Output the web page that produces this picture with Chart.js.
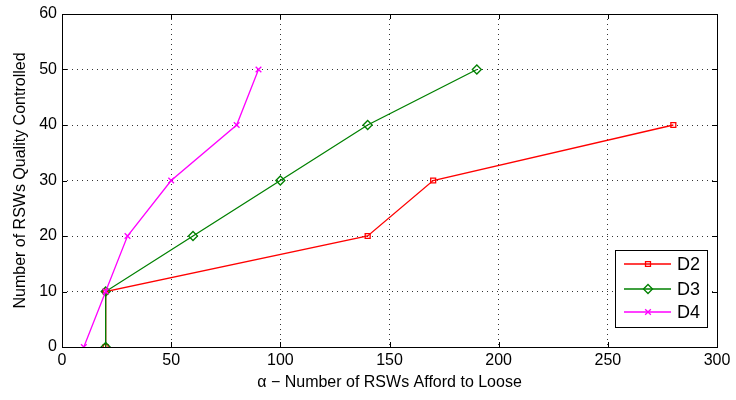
<!DOCTYPE html>
<html><head><meta charset="utf-8">
<script src="https://cdn.jsdelivr.net/npm/chart.js@4"></script>
<style>html,body{margin:0;padding:0;background:#fff}#wrap{width:736px;height:400px}</style>
</head><body><div id="wrap"><canvas id="c" width="736" height="400"></canvas></div>
<script>
const seriesNames = ['D2','D3','D4'];
const d2x = [20, 20, 140, 170, 280];
const d2y = [0, 10, 20, 30, 40];
const d3x = [20, 20, 60, 100, 140, 190];
const d3y = [0, 10, 20, 30, 40, 50];
const d4x = [10, 20, 30, 50, 80, 90];
const d4y = [0, 10, 20, 30, 40, 50];
const xTicks = [0,50,100,150,200,250,300];
const yTicks = [0,10,20,30,40,50,60];
const xTitle = 'α − Number of RSWs Afford to Loose';
const yTitle = 'Number of RSWs Quality Controlled';

const FONT = '"Liberation Sans", Arial, sans-serif';
const pts = (xs, ys) => xs.map((x,i)=>({x, y: ys[i]}));
const styles = [
  {color:'#ff0000', shape:'rect', r:3.5},
  {color:'#008000', shape:'rectRot', r:4.5},
  {color:'#ff00ff', shape:'crossRot', r:4}
];
const seriesData = [pts(d2x,d2y), pts(d3x,d3y), pts(d4x,d4y)];

const frame = {
  id:'frame',
  afterDraw(chart){
    const {ctx, chartArea:a, scales} = chart;
    ctx.save();
    ctx.strokeStyle='#000'; ctx.lineWidth=1;
    ctx.strokeRect(Math.round(a.left)+0.5, Math.round(a.top)+0.5, Math.round(a.right-a.left), Math.round(a.bottom-a.top));
    ctx.beginPath();
    const L=5;
    xTicks.forEach(v=>{
      const px=Math.round(scales.x.getPixelForValue(v))+0.5;
      ctx.moveTo(px,a.bottom); ctx.lineTo(px,a.bottom-L);
      ctx.moveTo(px,a.top); ctx.lineTo(px,a.top+L);
    });
    yTicks.forEach(v=>{
      const py=Math.round(scales.y.getPixelForValue(v))+0.5;
      ctx.moveTo(a.left,py); ctx.lineTo(a.left+L,py);
      ctx.moveTo(a.right,py); ctx.lineTo(a.right-L,py);
    });
    ctx.stroke();
    // legend
    const bx=615.5, by=250.5, bw=92, bh=77;
    ctx.fillStyle='#fff'; ctx.fillRect(bx,by,bw,bh);
    ctx.strokeStyle='#000'; ctx.lineWidth=1;
    ctx.strokeRect(bx,by,bw,bh);
    const rows=[264,289,312];
    chart.data.datasets.forEach((ds,i)=>{
      const y=rows[i];
      ctx.strokeStyle=ds.borderColor; ctx.lineWidth=1.3;
      ctx.beginPath(); ctx.moveTo(624,y); ctx.lineTo(671,y); ctx.stroke();
      ctx.fillStyle='rgba(0,0,0,0)';
      Chart.helpers.drawPoint(ctx,{pointStyle:ds.pointStyle,radius:ds.pointRadius,borderWidth:1.3},648,y);
      ctx.fillStyle='#000'; ctx.font='18px '+FONT; ctx.textBaseline='middle'; ctx.textAlign='left';
      ctx.fillText(ds.label,677,y+1);
    });
    ctx.restore();
  }
};

new Chart(document.getElementById('c'),{
  type:'line',
  data:{datasets: seriesData.map((d,i)=>({
    label: seriesNames[i], data:d, order: 2-i,
    borderColor: styles[i].color, backgroundColor:'transparent',
    pointStyle: styles[i].shape, pointRadius: styles[i].r,
    pointBorderColor: styles[i].color, pointBackgroundColor:'rgba(0,0,0,0)',
    pointBorderWidth:1.3, borderWidth:1.3, tension:0, fill:false
  }))},
  options:{
    responsive:false, animation:false, devicePixelRatio:1,
    layout:{padding:{top:14,right:19,left:11,bottom:8}},
    plugins:{legend:{display:false}, tooltip:{enabled:false}},
    scales:{
      x:{type:'linear', min:0, max:300,
        afterBuildTicks(s){ s.ticks = xTicks.map(v=>({value:v})); },
        afterFit(s){ s.height = 45; s.paddingLeft = 0; s.paddingRight = 0; },
        grid:{color:'#333', drawTicks:false, lineWidth:1},
        border:{display:false, dash:[1,4]},
        ticks:{color:'#000', font:{family:FONT,size:16}, padding:4, maxRotation:0, autoSkip:false},
        title:{display:true, text:xTitle, color:'#000', font:{family:FONT,size:16}, padding:{top:2,bottom:0}}
      },
      y:{type:'linear', min:0, max:60,
        afterBuildTicks(s){ s.ticks = yTicks.map(v=>({value:v})); },
        afterFit(s){ s.width = 51; s.paddingTop = 0; s.paddingBottom = 0; },
        grid:{color:'#333', drawTicks:false, lineWidth:1},
        border:{display:false, dash:[1,4]},
        ticks:{color:'#000', font:{family:FONT,size:16}, padding:5, autoSkip:false},
        title:{display:true, text:yTitle, color:'#000', font:{family:FONT,size:16}, padding:{top:0,bottom:4}}
      }
    }
  },
  plugins:[frame]
});
</script></body></html>
